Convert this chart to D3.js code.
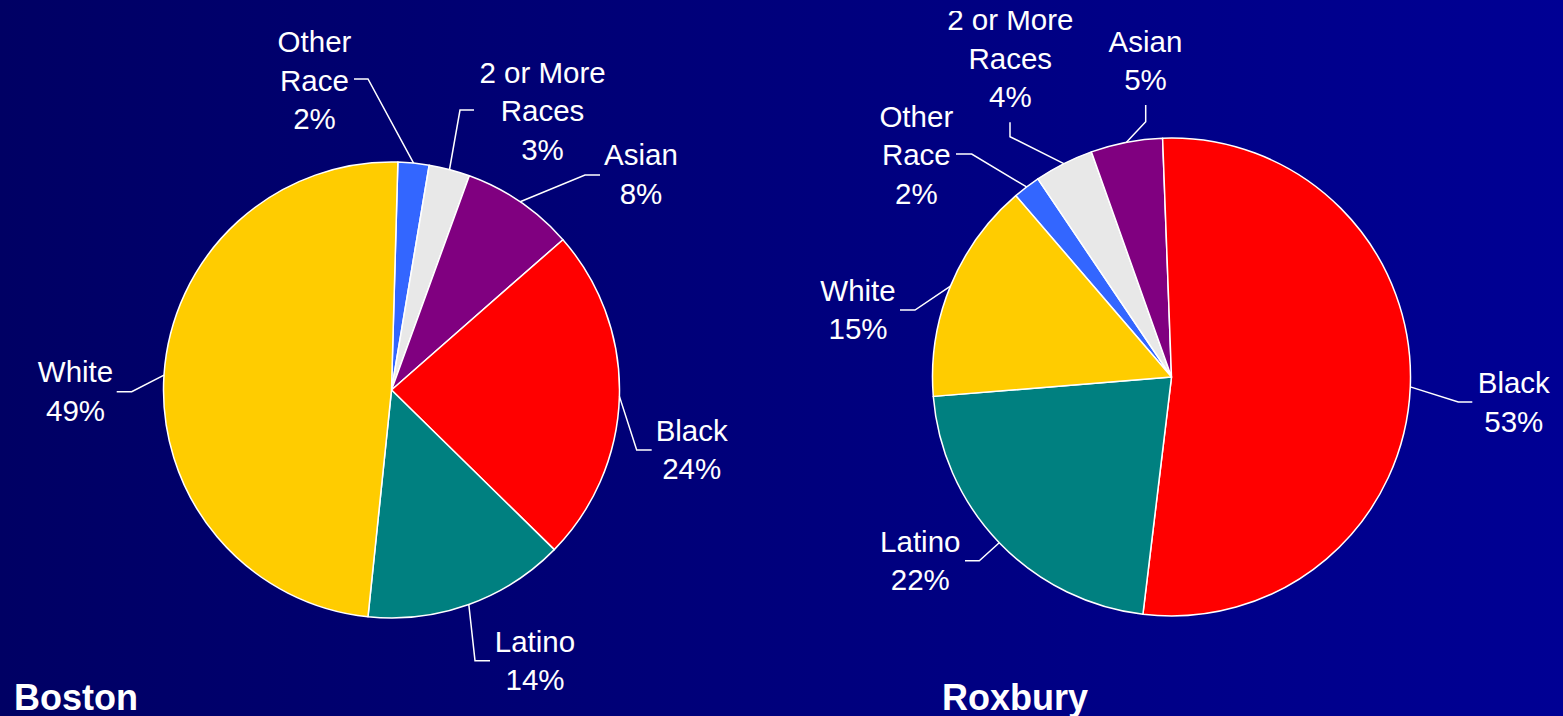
<!DOCTYPE html>
<html>
<head>
<meta charset="utf-8">
<script src="https://cdn.jsdelivr.net/npm/d3@7"></script>
<style>
  html, body { margin: 0; padding: 0; overflow: hidden; }
  #chart { width: 1563px; height: 716px; }
  .label { font-family: "Liberation Sans", Arial, sans-serif; font-size: 29.5px; fill: #ffffff; }
  .title { font-family: "Liberation Sans", Arial, sans-serif; font-size: 36px; font-weight: bold; fill: #ffffff; }
</style>
</head>
<body>
<div id="chart"></div>
<script>
// data, same slice order for both pies (clockwise)
var races = ["Other Race", "2 or More Races", "Asian", "Black", "Latino", "White"];
var raceLines = [["Other", "Race"], ["2 or More", "Races"], ["Asian"], ["Black"], ["Latino"], ["White"]];
var raceColors = ["#3366ff", "#e8e8e8", "#800080", "#ff0000", "#008080", "#ffcc00"];

var bostonShares = [2.2, 2.9, 8.0, 23.8, 14.3, 48.8];
var bostonPct = ["2%", "3%", "8%", "24%", "14%", "49%"];

var roxburyShares = [1.85, 4.0, 4.85, 52.5, 21.8, 15.0];
var roxburyPct = ["2%", "4%", "5%", "53%", "22%", "15%"];

var width = 1563, height = 716, lineH = 38.5;

// layout: label anchor, elbow, tail (relative to pie centre)
var bostonLayout = {
  id: "boston", cx: 391.5, cy: 390, r: 228, start: 1.6, title: "Boston", tx: 14, clipTop: 0,
  label: [[-77, -338], [151, -307.3], [249.5, -225], [300.2, 50.7], [143.5, 261.7], [-316, -7.7]],
  elbow: [[-23.5, -311], [68.5, -280], [193.5, -215], [245.2, 60], [83.5, 270.7], [-259.8, 1.7]],
  tail:  [[-37.5, -311], [82.5, -280], [208.5, -215], [260.2, 60], [98.5, 270.7], [-274.8, 1.7]]
};
var roxburyLayout = {
  id: "roxbury", cx: 1171.5, cy: 377, r: 239, start: -40.65, title: "Roxbury", tx: 942, clipTop: 11,
  label: [[-255.2, -250.3], [-161.2, -347], [-26, -325.3], [342.3, 16.3], [-251.2, 174.7], [-313.5, -76.3]],
  elbow: [[-199.8, -223], [-161.5, -240.3], [-25.8, -255.3], [286.8, 25], [-192.2, 183.7], [-256.5, -67]],
  tail:  [[-215.5, -223], [-161.5, -254.7], [-25.8, -272], [300.8, 25], [-206.5, 183.7], [-271.5, -67]]
};

var svg = d3.select("#chart").append("svg")
    .attr("width", width)
    .attr("height", height);

var defs = svg.append("defs");
var grad = defs.append("linearGradient")
    .attr("id", "bg")
    .attr("x1", "0%").attr("x2", "100%")
    .attr("y1", "0%").attr("y2", "0%");
grad.append("stop").attr("offset", "0%").attr("stop-color", "#000064");
grad.append("stop").attr("offset", "100%").attr("stop-color", "#000094");

svg.append("rect")
    .attr("width", width)
    .attr("height", height)
    .attr("fill", "url(#bg)");

var color = d3.scaleOrdinal().domain(races).range(raceColors);

function drawPie(shares, pct, lay) {
  var a0 = lay.start * Math.PI / 180;
  var pie = d3.pie().sort(null).startAngle(a0).endAngle(a0 + 2 * Math.PI);
  var arcs = pie(shares);
  var arc = d3.arc().innerRadius(0).outerRadius(lay.r);

  // plot area clip (the top label of the right chart is cut in the original)
  defs.append("clipPath")
      .attr("id", "clip-" + lay.id)
      .append("rect")
      .attr("x", -lay.cx)
      .attr("y", lay.clipTop - lay.cy)
      .attr("width", width)
      .attr("height", height);

  var g = svg.append("g")
      .attr("transform", "translate(" + lay.cx + "," + lay.cy + ")")
      .attr("clip-path", "url(#clip-" + lay.id + ")");

  g.selectAll(".slice")
      .data(arcs)
      .enter()
      .append("path")
      .attr("class", "slice")
      .attr("d", arc)
      .attr("fill", function(d, i) { return color(races[i]); })
      .attr("stroke", "#ffffff")
      .attr("stroke-width", 1.5)
      .attr("stroke-linejoin", "round");

  // leader lines start on the rim at the slice middle
  g.selectAll(".leader")
      .data(arcs)
      .enter()
      .append("polyline")
      .attr("class", "leader")
      .attr("points", function(d, i) {
        var m = (d.startAngle + d.endAngle) / 2;
        var px = lay.r * Math.sin(m), py = -lay.r * Math.cos(m);
        return [[px, py], lay.elbow[i], lay.tail[i]].map(function(p) { return p.join(","); }).join(" ");
      })
      .attr("fill", "none")
      .attr("stroke", "#ffffff")
      .attr("stroke-width", 1.5);

  var labels = g.selectAll(".label")
      .data(arcs)
      .enter()
      .append("text")
      .attr("class", "label")
      .attr("text-anchor", "middle");

  labels.each(function(d, i) {
    var t = d3.select(this);
    var lines = raceLines[i].concat([pct[i]]);
    lines.forEach(function(s, k) {
      t.append("tspan")
          .attr("x", lay.label[i][0])
          .attr("y", lay.label[i][1] + k * lineH)
          .text(s);
    });
  });

  svg.append("text")
      .attr("class", "title")
      .attr("x", lay.tx)
      .attr("y", 710)
      .text(lay.title);
}

drawPie(bostonShares, bostonPct, bostonLayout);
drawPie(roxburyShares, roxburyPct, roxburyLayout);
</script>
</body>
</html>
